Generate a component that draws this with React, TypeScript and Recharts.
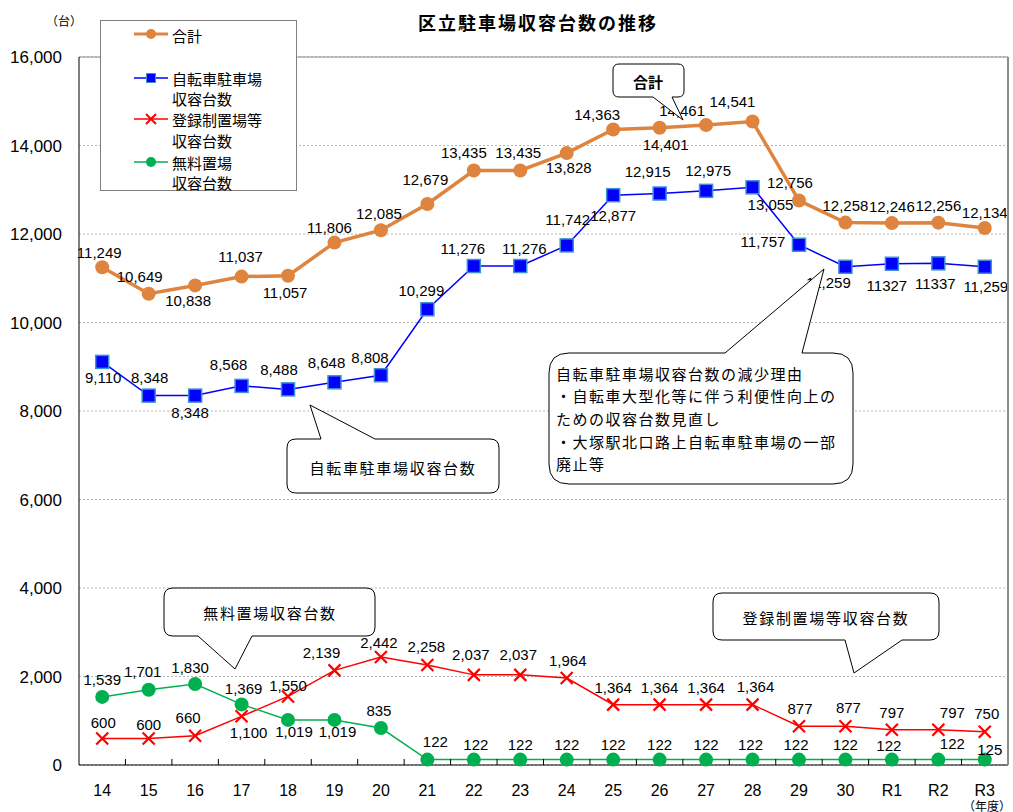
import type { FC } from "react";
import {
  LineChart,
  Line,
  XAxis,
  YAxis,
  CartesianGrid,
  ReferenceLine,
} from "recharts";

const years = ["14", "15", "16", "17", "18", "19", "20", "21", "22", "23", "24", "25", "26", "27", "28", "29", "30", "R1", "R2", "R3"];
const total = [11249, 10649, 10838, 11037, 11057, 11806, 12085, 12679, 13435, 13435, 13828, 14363, 14401, 14461, 14541, 12756, 12258, 12246, 12256, 12134];
const bicycle = [9110, 8348, 8348, 8568, 8488, 8648, 8808, 10299, 11276, 11276, 11742, 12877, 12915, 12975, 13055, 11757, 11259, 11327, 11337, 11259];
const registered = [600, 600, 660, 1100, 1550, 2139, 2442, 2258, 2037, 2037, 1964, 1364, 1364, 1364, 1364, 877, 877, 797, 797, 750];
const free = [1539, 1701, 1830, 1369, 1019, 1019, 835, 122, 122, 122, 122, 122, 122, 122, 122, 122, 122, 122, 122, 125];
const yTicks = [0, 2000, 4000, 6000, 8000, 10000, 12000, 14000, 16000];
// the source prints these two without a thousands separator
const bicyclePlainLabels = ["R1", "R2"];

const data = years.map((y, i) => ({
  year: y,
  total: total[i],
  bicycle: bicycle[i],
  registered: registered[i],
  free: free[i],
}));

// label offsets [dx, dy] from each point
const totalPos = [[-3, -15], [-9, -17], [-7, 15], [-1, -20], [-3, 17], [-5, -15], [-2, -17], [-2, -24], [-10, -18], [-2, -18], [2, 14], [-16, -15], [6, 17], [-24, -15], [-20, -20], [-9, -18], [0, -17], [0, -17], [0, -17], [0, -16]];
const bicyclePos = [[1, 16], [1, -18], [-5, 17], [-13, -21], [-9, -20], [-8, -20], [-11, -18], [-6, -19], [-11, -18], [4, -18], [1, -26], [0, 20], [-12, -22], [2, -20], [18, 17], [-36, -3], [-17, 16], [-5, 22], [-3, 20], [1, 20]];
const registeredPos = [[1, -16], [0, -14], [-7, -18], [7, 16], [0, -11], [-13, -18], [-2, -14], [-1, -19], [-3, -20], [-2, -20], [1, -18], [0, -17], [0, -17], [0, -17], [3, -18], [1, -18], [3, -19], [0, -17], [14, -17], [2, -18]];
const freePos = [[0, -17], [-6, -18], [-5, -17], [2, -16], [6, 12], [3, 12], [-2, -18], [8, -18], [2, -15], [0, -15], [0, -15], [0, -15], [0, -15], [0, -15], [-2, -15], [-3, -15], [0, -15], [-3, -14], [14, -16], [5, -10]];

const W = 1013;
const H = 812;
const LEFT = 79;
const RIGHT = 5;
const TOP = 57;
const XH = 47;
const HALF_BAND = (W - LEFT - RIGHT) / years.length / 2;

const FONT = '"Liberation Sans", Arial, "Noto Sans CJK JP", sans-serif';
const JP = '"Noto Sans CJK JP", "Liberation Sans", sans-serif';

const ORANGE = "#DF843E";
const BLUE = "#0000FF";
const RED = "#FF0000";
const GREEN = "#00B050";

const fmt = (v: number) => v.toLocaleString("en-US");

const makeLabel = (pos: number[][], plain: string[] = []) => (p: any) => {
  const [dx, dy] = pos[p.index] || [0, -16];
  const txt = plain.includes(years[p.index]) ? String(p.value) : fmt(p.value);
  return (
    <text
      key={`l${p.index}`}
      x={p.x + dx}
      y={p.y + dy}
      textAnchor="middle"
      dominantBaseline="central"
      fontSize={15}
      fontFamily={FONT}
      fill="#000"
    >
      {txt}
    </text>
  );
};

const circleDot = (color: string) => (p: any) => (
  <circle key={`d${p.index}`} cx={p.cx} cy={p.cy} r={7} fill={color} />
);
const squareDot = (p: any) => (
  <rect key={`d${p.index}`} x={p.cx - 6.5} y={p.cy - 6.5} width={13} height={13} fill={BLUE} stroke="#3d8fd6" strokeWidth={1.5} />
);
const crossDot = (p: any) => (
  <path key={`d${p.index}`} d={`M${p.cx - 6},${p.cy - 6}L${p.cx + 6},${p.cy + 6}M${p.cx + 6},${p.cy - 6}L${p.cx - 6},${p.cy + 6}`} stroke={RED} strokeWidth={2.2} />
);

const XTick = (p: any) => (
  <g>
    <line x1={p.x + HALF_BAND} y1={p.y} x2={p.x + HALF_BAND} y2={p.y - 6} stroke="#000" strokeWidth={1} />
    <text x={p.x} y={p.y + 25} textAnchor="middle" dominantBaseline="central" fontSize={16} fontFamily={FONT} fill="#000">
      {p.payload.value}
    </text>
  </g>
);

// speech bubble: rounded box with a tail on the top or bottom edge
const bubble = (x: number, y: number, w: number, h: number, r: number, side: "top" | "bottom", a: number, b: number, tx: number, ty: number) => {
  const top = side === "top" ? `L${a},${y} L${tx},${ty} L${b},${y} ` : "";
  const bot = side === "bottom" ? `L${b},${y + h} L${tx},${ty} L${a},${y + h} ` : "";
  return `M${x + r},${y} ${top}L${x + w - r},${y} Q${x + w},${y} ${x + w},${y + r} L${x + w},${y + h - r} Q${x + w},${y + h} ${x + w - r},${y + h} ${bot}L${x + r},${y + h} Q${x},${y + h} ${x},${y + h - r} L${x},${y + r} Q${x},${y} ${x + r},${y} Z`;
};

const Overlay: FC = () => (
  <svg width={W} height={H} style={{ position: "absolute", left: 0, top: 0, pointerEvents: "none" }}>
    {/* right frame edge */}
    <line x1={W - RIGHT} y1={TOP} x2={W - RIGHT} y2={H - XH} stroke="#8c8c8c" strokeWidth={2} />

    {/* title + units */}
    <text x={538} y={22} textAnchor="middle" dominantBaseline="central" fontSize={18} fontWeight="bold" letterSpacing={2} fontFamily={JP}>
      区立駐車場収容台数の推移
    </text>
    <text x={64} y={20} textAnchor="middle" dominantBaseline="central" fontSize={12} fontFamily={JP}>（台）</text>
    <text x={987} y={805} textAnchor="middle" dominantBaseline="central" fontSize={12} fontFamily={JP}>（年度）</text>

    {/* legend */}
    <rect x={100.5} y={20.5} width={196} height={170} fill="#fff" stroke="#808080" />
    <line x1={134} y1={34} x2={168} y2={34} stroke={ORANGE} strokeWidth={3} />
    <circle cx={151} cy={34} r={5} fill={ORANGE} />
    <text x={172} y={35} dominantBaseline="central" fontSize={15} fontFamily={JP}>合計</text>

    <line x1={134} y1={78} x2={168} y2={78} stroke={BLUE} strokeWidth={1.5} />
    <rect x={146.5} y={73.5} width={9} height={9} fill={BLUE} stroke="#3d8fd6" />
    <text x={172} y={78} dominantBaseline="central" fontSize={15} fontFamily={JP}>自転車駐車場</text>
    <text x={172} y={98} dominantBaseline="central" fontSize={15} fontFamily={JP}>収容台数</text>

    <line x1={134} y1={119} x2={168} y2={119} stroke={RED} strokeWidth={1.5} />
    <path d="M146,114L156,124M156,114L146,124" stroke={RED} strokeWidth={2} />
    <text x={172} y={119} dominantBaseline="central" fontSize={15} fontFamily={JP}>登録制置場等</text>
    <text x={172} y={140} dominantBaseline="central" fontSize={15} fontFamily={JP}>収容台数</text>

    <line x1={134} y1={162} x2={168} y2={162} stroke={GREEN} strokeWidth={1.5} />
    <circle cx={151} cy={162} r={5} fill={GREEN} />
    <text x={172} y={162} dominantBaseline="central" fontSize={15} fontFamily={JP}>無料置場</text>
    <text x={172} y={182} dominantBaseline="central" fontSize={15} fontFamily={JP}>収容台数</text>

    {/* callouts */}
    <path d={bubble(613, 64, 71, 33, 6, "bottom", 653, 672, 683, 120)} fill="#fff" stroke="#000" />
    <text x={648} y={81} textAnchor="middle" dominantBaseline="central" fontSize={15} fontWeight="bold" fontFamily={JP}>合計</text>

    <path d={bubble(287, 439, 212, 54, 9, "top", 321, 375, 310, 405)} fill="#fff" stroke="#000" />
    <text x={393} y={467} textAnchor="middle" dominantBaseline="central" fontSize={15} letterSpacing={1.7} fontFamily={JP}>自転車駐車場収容台数</text>

    <path d={bubble(549, 353, 304, 131, 20, "top", 725, 802, 824, 269)} fill="#fff" stroke="#000" />
    {["自転車駐車場収容台数の減少理由", "・自転車大型化等に伴う利便性向上の", "ための収容台数見直し", "・大塚駅北口路上自転車駐車場の一部", "廃止等"].map((t, i) => (
      <text key={i} x={556} y={373 + i * 22.7} dominantBaseline="central" fontSize={15} letterSpacing={1.5} fontFamily={JP}>{t}</text>
    ))}

    <path d={bubble(164, 588, 211, 48, 9, "bottom", 198, 252, 235, 669)} fill="#fff" stroke="#000" />
    <text x={270} y={612} textAnchor="middle" dominantBaseline="central" fontSize={15} letterSpacing={1.7} fontFamily={JP}>無料置場収容台数</text>

    <path d={bubble(713, 593, 226, 47, 9, "bottom", 845, 902, 854, 673)} fill="#fff" stroke="#000" />
    <text x={826} y={617} textAnchor="middle" dominantBaseline="central" fontSize={15} letterSpacing={1.7} fontFamily={JP}>登録制置場等収容台数</text>
  </svg>
);

export default function App() {
  return (
    <div style={{ position: "absolute", left: 0, top: 0, width: W, height: H, background: "#fff", fontFamily: FONT }}>
      <LineChart width={W} height={H} data={data} margin={{ top: TOP, right: RIGHT, bottom: 0, left: 0 }}>
        <CartesianGrid vertical={false} stroke="#b5b5b5" strokeDasharray="2 2" />
        <ReferenceLine y={16000} stroke="#8c8c8c" />
        <XAxis
          dataKey="year"
          height={XH}
          interval={0}
          padding={{ left: HALF_BAND, right: HALF_BAND }}
          tickSize={0}
          tickMargin={0}
          tickLine={false}
          axisLine={{ stroke: "#000" }}
          tick={<XTick />}
        />
        <YAxis
          width={LEFT}
          domain={[0, 16000]}
          ticks={yTicks}
          tickFormatter={fmt}
          tickSize={0}
          tickMargin={17}
          tickLine={false}
          axisLine={{ stroke: "#000" }}
          tick={{ fontSize: 17, fill: "#000", fontFamily: FONT }}
        />

        <Line dataKey="total" stroke={ORANGE} strokeWidth={3.5} dot={circleDot(ORANGE)} label={makeLabel(totalPos)} isAnimationActive={false} />
        <Line dataKey="bicycle" stroke={BLUE} strokeWidth={1.5} dot={squareDot} label={makeLabel(bicyclePos, bicyclePlainLabels)} isAnimationActive={false} />
        <Line dataKey="registered" stroke={RED} strokeWidth={1.5} dot={crossDot} label={makeLabel(registeredPos)} isAnimationActive={false} />
        <Line dataKey="free" stroke={GREEN} strokeWidth={1.5} dot={circleDot(GREEN)} label={makeLabel(freePos)} isAnimationActive={false} />
      </LineChart>
      <Overlay />
    </div>
  );
}
